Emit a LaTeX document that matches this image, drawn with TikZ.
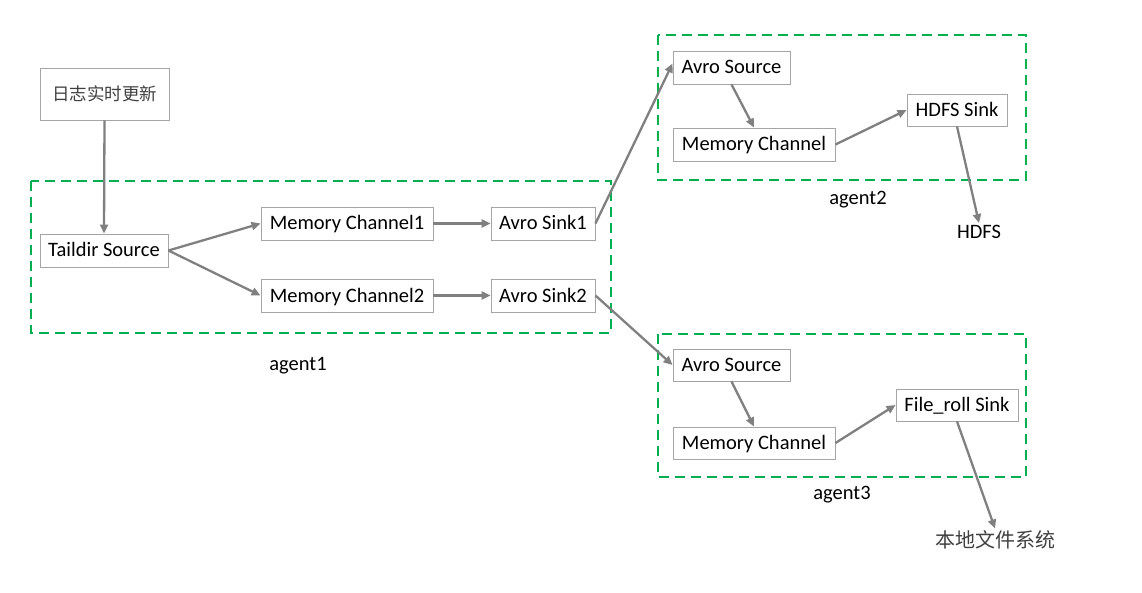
\documentclass[tikz,border=0pt]{standalone}
\usepackage{fontspec}
\setmainfont{Carlito}
\newfontfamily\cjk{Noto Sans CJK SC}
\usetikzlibrary{arrows.meta}
\definecolor{agentgreen}{RGB}{0,176,80}
\definecolor{boxgray}{RGB}{165,165,165}
\definecolor{arrowgray}{RGB}{128,128,128}
\definecolor{cjkgray}{RGB}{64,64,64}
\tikzset{
  box/.style={draw=boxgray, line width=0.9pt, fill=white, minimum height=33pt, inner sep=0pt, text height=13pt, text depth=0pt, font=\fontsize{20.5}{22}\selectfont, text=black},
  agentbox/.style={draw=agentgreen, line width=2.5pt, dash pattern=on 10pt off 6pt},
  flow/.style={draw=arrowgray, line width=2.3pt, -{Triangle[length=9pt,width=8pt]}},
  lbl/.style={font=\fontsize{20.5}{22}\selectfont, text=black, inner sep=2pt},
  cjklbl/.style={font=\cjk\fontsize{20}{22}\selectfont, text=cjkgray, inner sep=2pt}
}
\begin{document}
\begin{tikzpicture}[x=1pt,y=-1pt]
\useasboundingbox (0,0) rectangle (1142,593);
% agent boxes
\draw[agentbox] (31,181) rectangle (611,333);
\draw[agentbox] (658,35) rectangle (1026,180);
\draw[agentbox] (658,334) rectangle (1026,477);
% nodes
\node[box, minimum width=129pt, minimum height=52pt, text height=14pt, font=\cjk\fontsize{17.5}{20}\selectfont, text=cjkgray] (log) at (104.5,94) {日志实时更新};
\node[box, minimum width=128pt] (tail) at (104,250.5) {Taildir Source};
\node[box, minimum width=172pt] (mc1) at (347,223.5) {Memory Channel1};
\node[box, minimum width=172pt] (mc2) at (347,295.5) {Memory Channel2};
\node[box, minimum width=104pt] (as1) at (543,223.5) {Avro Sink1};
\node[box, minimum width=104pt] (as2) at (543,295.5) {Avro Sink2};
\node[box, minimum width=117pt] (src2) at (731.5,67.5) {Avro Source};
\node[box, minimum width=162pt] (mcb) at (754,144.5) {Memory Channel};
\node[box, minimum width=100pt, minimum height=32pt] (hdfs) at (957,110) {HDFS Sink};
\node[box, minimum width=117pt, minimum height=32pt] (src3) at (731.5,365) {Avro Source};
\node[box, minimum width=162pt, minimum height=32pt] (mcc) at (754,443) {Memory Channel};
\node[box, minimum width=122pt, minimum height=32pt] (froll) at (957,405) {File\_roll Sink};
% labels
\node[lbl] (a1) at (298,366) {agent1};
\node[lbl] (a2) at (858,200) {agent2};
\node[lbl] (a3) at (842,495) {agent3};
\node[lbl] (hd) at (979,232) {HDFS};
\node[cjklbl] (fs) at (995,540) {本地文件系统};
% connectors
\draw[flow] (log.south) -- (tail.north);
\draw[flow] (tail.east) -- (mc1.west);
\draw[flow] (tail.east) -- (mc2.west);
\draw[flow] (mc1.east) -- (as1.west);
\draw[flow] (mc2.east) -- (as2.west);
\draw[flow] (as1.east) -- ([yshift=4pt]src2.west);
\draw[flow] (as2.east) -- (src3.west);
\draw[flow] (src2.south) -- (mcb.north);
\draw[flow] (mcb.east) -- (hdfs.west);
\draw[flow] (hdfs.south) -- (hd.north);
\draw[flow] (src3.south) -- (mcc.north);
\draw[flow] (mcc.east) -- (froll.west);
\draw[flow] (froll.south) -- (fs.north);
\end{tikzpicture}
\end{document}
